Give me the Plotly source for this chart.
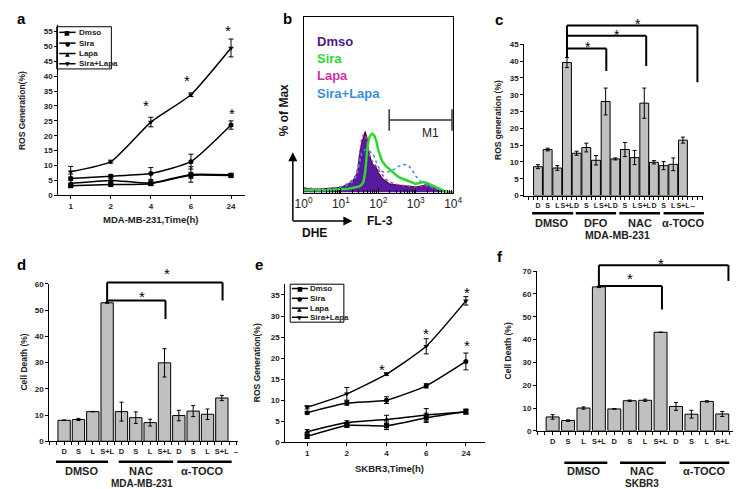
import math
import plotly.graph_objects as go

W, H = 741, 489
FONT = "Liberation Sans, Arial, sans-serif"

# ---------- a / e : ROS generation time course ----------
time_labels = ["1", "2", "4", "6", "24"]
series_names = ["Dmso", "Sira", "Lapa", "Sira+Lapa"]
series_symbols = ["square", "circle", "triangle-up", "triangle-down"]
legend_glyphs = ["■", "●", "▲", "▼"]

mda_dmso = [3.2, 3.6, 3.9, 6.7, 6.6]
mda_dmso_err = [0.5, 0.4, 0.5, 1.0, 0.6]
mda_sira = [5.6, 6.4, 7.3, 11.3, 23.6]
mda_sira_err = [1.5, 0.6, 2.0, 2.5, 1.4]
mda_lapa = [4.0, 5.0, 4.1, 7.0, 6.9]
mda_lapa_err = [1.0, 0.5, 0.8, 2.6, 0.5]
mda_combo = [7.9, 11.3, 24.6, 33.8, 49.5]
mda_combo_err = [1.8, 0.5, 1.6, 0.6, 3.0]

sk_dmso = [1.4, 4.0, 3.9, 5.8, 7.3]
sk_dmso_err = [0.5, 0.4, 0.9, 1.1, 0.6]
sk_sira = [7.0, 9.3, 10.0, 13.4, 19.2]
sk_sira_err = [0.3, 0.5, 0.8, 0.5, 2.0]
sk_lapa = [2.5, 4.7, 5.4, 6.5, 7.2]
sk_lapa_err = [0.5, 0.4, 1.0, 1.5, 0.5]
sk_combo = [8.3, 11.5, 16.2, 22.8, 33.6]
sk_combo_err = [0.4, 1.5, 0.3, 1.8, 1.0]

# ---------- b : DHE flow histogram (log10 FL-3, % of max) ----------
flow_log = [0.0, 0.2, 0.4, 0.6, 0.8, 1.0, 1.1, 1.2, 1.3, 1.4, 1.45, 1.5, 1.55, 1.6,
            1.65, 1.7, 1.75, 1.8, 1.85, 1.9, 1.95, 2.0, 2.1, 2.2, 2.3, 2.4, 2.5, 2.6,
            2.7, 2.8, 2.9, 3.0, 3.1, 3.2, 3.3, 3.4, 3.5, 3.6, 3.7, 3.8, 3.9, 4.0]
flow_dmso = [2.5, 2.0, 2.0, 2.2, 2.4, 3.0, 4.0, 5.0, 6.5, 9.5, 12.5, 22.7, 28.0, 32.0,
             34.8, 31.0, 23.0, 18.5, 16.2, 15.3, 14.0, 11.5, 8.3, 6.5, 5.0, 4.6, 4.3, 4.1,
             4.0, 3.8, 3.5, 3.2, 3.6, 4.2, 4.5, 3.5, 3.0, 2.2, 1.3, 0.7, 0.3, 0.0]
flow_sira = [1.5, 1.3, 1.3, 1.4, 1.5, 1.8, 2.0, 2.2, 2.5, 2.8, 3.0, 3.5, 4.5, 6.0,
             12.0, 24.0, 31.0, 33.0, 33.5, 32.0, 29.0, 24.0, 18.0, 15.0, 13.3, 11.5, 9.5, 8.3,
             7.5, 6.5, 5.8, 5.0, 5.5, 6.0, 5.5, 4.5, 3.4, 2.5, 1.3, 0.6, 0.2, 0.0]
flow_lapa = [2.8, 2.2, 2.0, 2.3, 2.6, 3.4, 4.3, 5.3, 7.0, 10.0, 14.0, 24.0, 30.0, 33.0,
             33.0, 28.0, 22.0, 19.0, 17.5, 16.0, 15.0, 13.0, 10.0, 7.5, 6.0, 5.2, 4.6, 4.2,
             3.9, 3.6, 3.4, 3.3, 3.6, 4.0, 4.0, 3.2, 2.5, 1.8, 1.0, 0.5, 0.2, 0.0]
flow_combo = [1.8, 1.8, 1.8, 2.0, 2.4, 3.0, 3.5, 4.5, 6.0, 9.0, 12.0, 17.0, 22.0, 24.0,
              24.5, 24.0, 23.5, 23.0, 22.0, 20.0, 17.0, 14.5, 12.0, 11.5, 12.0, 13.0, 14.5, 15.5,
              16.0, 15.5, 13.0, 9.5, 7.0, 5.0, 4.0, 3.2, 2.5, 1.8, 1.2, 0.6, 0.3, 0.1]
flow_names = ["Dmso", "Sira", "Lapa", "Sira+Lapa"]
flow_colors = ["#4a1c86", "#2fd62f", "#d0339f", "#3d8ed8"]

# ---------- c : ROS generation, MDA-MB-231 with scavengers ----------
c_labels = ["D", "S", "L", "S+L", "D", "S", "L", "S+L", "D", "S", "L", "S+L",
            "D", "S", "L", "S+L", "--"]
c_ros = [8.6, 13.7, 8.2, 39.6, 12.6, 14.3, 10.5, 28.0, 10.9, 13.7, 11.3, 27.5,
         9.9, 8.9, 9.3, 16.5]
c_ros_err = [0.6, 0.4, 0.7, 1.5, 0.6, 1.3, 1.4, 4.0, 0.3, 2.1, 2.1, 4.5,
             0.5, 1.2, 1.9, 0.9]
c_groups = ["DMSO", "DFO", "NAC", "α-TOCO"]

# ---------- d : cell death, MDA-MB-231 ----------
d_labels = ["D", "S", "L", "S+L", "D", "S", "L", "S+L", "D", "S", "L", "S+L", "–"]
d_death = [8.0, 8.3, 11.3, 52.8, 11.3, 9.0, 7.1, 29.9, 9.8, 11.5, 10.3, 16.5]
d_death_err = [0.1, 0.4, 0.1, 0.2, 3.6, 2.2, 1.3, 5.4, 2.0, 2.1, 2.0, 1.0]

# ---------- f : cell death, SKBR3 ----------
f_labels = ["D", "S", "L", "S+L", "D", "S", "L", "S+L", "D", "S", "L", "S+L", "–"]
f_death = [6.1, 4.5, 10.0, 63.1, 9.6, 13.2, 13.4, 43.2, 10.7, 7.3, 12.9, 7.4]
f_death_err = [1.0, 0.3, 0.5, 0.3, 0.1, 0.3, 0.5, 0.1, 1.7, 1.7, 0.3, 1.1]
dfn_groups = ["DMSO", "NAC", "α-TOCO"]


def px(x):
    return x / W


def py(y):
    return 1 - y / H


def yv(dom, rng, v):
    return dom[0] + (v - rng[0]) / (rng[1] - rng[0]) * (dom[1] - dom[0])


# panel frames (pixel positions of the axis lines)
A_DOM = ([px(42.3), px(233.3)], [py(186.7), py(13.3)])
B_DOM = ([px(293.7), px(447)], [py(184), py(5)])
C_DOM = ([px(520), px(703)], [py(187), py(33)])
D_DOM = ([px(33), px(227)], [py(437.3), py(277)])
E_DOM = ([px(275), px(480)], [py(438.3), py(276.7)])
F_DOM = ([px(533), 1.0], [py(426.7), py(264)])
C_YR, D_YR, F_YR = [0, 45], [0, 60], [0, 70]

fig = go.Figure()


def add_time_course(xa, ya, series):
    for (vals, errs), sym in zip(series, series_symbols):
        fig.add_trace(go.Scatter(
            x=time_labels, y=vals, xaxis=xa, yaxis=ya, mode="lines+markers",
            line=dict(color="black", width=1.5, shape="spline", smoothing=0.5),
            marker=dict(symbol=sym, size=5, color="black"),
            error_y=dict(type="data", array=errs, color="black", thickness=1, width=2.5),
            cliponaxis=False, showlegend=False))


def add_bars(xa, ya, vals, errs, width):
    fig.add_trace(go.Bar(
        x=list(range(len(vals))), y=vals, xaxis=xa, yaxis=ya, width=width,
        marker=dict(color="#c0c0c0", line=dict(color="black", width=1)),
        error_y=dict(type="data", array=errs, color="black", thickness=1, width=2),
        showlegend=False))


add_time_course("x", "y", [(mda_dmso, mda_dmso_err), (mda_sira, mda_sira_err),
                           (mda_lapa, mda_lapa_err), (mda_combo, mda_combo_err)])
add_time_course("x5", "y5", [(sk_dmso, sk_dmso_err), (sk_sira, sk_sira_err),
                             (sk_lapa, sk_lapa_err), (sk_combo, sk_combo_err)])

# flow histogram
fig.add_trace(go.Scatter(x=flow_log, y=flow_dmso, xaxis="x2", yaxis="y2", mode="lines",
                         fill="tozeroy", fillcolor="#5a1aa0",
                         line=dict(color="#1c0a30", width=1), showlegend=False))
fig.add_trace(go.Scatter(x=flow_log, y=flow_lapa, xaxis="x2", yaxis="y2", mode="lines",
                         line=dict(color=flow_colors[2], width=1.5, dash="dot"), showlegend=False))
fig.add_trace(go.Scatter(x=flow_log, y=flow_combo, xaxis="x2", yaxis="y2", mode="lines",
                         line=dict(color=flow_colors[3], width=1.5, dash="dot"), showlegend=False))
fig.add_trace(go.Scatter(x=flow_log, y=flow_sira, xaxis="x2", yaxis="y2", mode="lines",
                         line=dict(color=flow_colors[1], width=2.5), showlegend=False))

add_bars("x3", "y3", c_ros, c_ros_err, 0.92)
add_bars("x4", "y4", d_death, d_death_err, 0.86)
add_bars("x6", "y6", f_death, f_death_err, 0.84)

tickfont = dict(family=FONT, size=8, color="#222", weight="bold")
base = dict(showline=True, linecolor="black", linewidth=1, ticks="outside", ticklen=3,
            tickwidth=1, tickcolor="black", showgrid=False, zeroline=False, tickfont=tickfont)
minor_half = dict(dtick=0.5, tick0=0, ticks="outside", ticklen=3, tickcolor="black")

decade_minor = [d + math.log10(k) for d in range(4) for k in range(2, 10)]

layout_axes = dict(
    xaxis=dict(base, domain=A_DOM[0], anchor="y", type="category", range=[-0.31, 4.34]),
    yaxis=dict(base, domain=A_DOM[1], anchor="x", range=[0, 57.2], dtick=5, tick0=0),
    xaxis2=dict(base, domain=B_DOM[0], anchor="y2", range=[0, 4], ticks="inside", ticklen=5,
                mirror=True, tickvals=[0, 1, 2, 3, 4],
                ticktext=["10<sup>%d</sup>" % k for k in range(5)],
                tickfont=dict(family=FONT, size=12, color="#222"),
                minor=dict(tickvals=decade_minor, ticks="inside", ticklen=3, tickcolor="black")),
    yaxis2=dict(base, domain=B_DOM[1], anchor="x2", range=[0, 100], ticks="",
                showticklabels=False, mirror=True),
    xaxis3=dict(base, domain=C_DOM[0], anchor="y3", range=[-1.41, 17.07], tickangle=0,
                tickvals=list(range(len(c_labels))), ticktext=c_labels, minor=minor_half,
                tickfont=dict(tickfont, size=7)),
    yaxis3=dict(base, domain=C_DOM[1], anchor="x3", range=C_YR, dtick=5, tick0=0),
    xaxis4=dict(base, domain=D_DOM[0], anchor="y4", range=[-1.04, 12.16], tickangle=0,
                tickvals=list(range(len(d_labels))), ticktext=d_labels, minor=minor_half,
                tickfont=dict(tickfont, size=7.5)),
    yaxis4=dict(base, domain=D_DOM[1], anchor="x4", range=D_YR, dtick=10, tick0=0),
    xaxis5=dict(base, domain=E_DOM[0], anchor="y5", type="category", range=[-0.55, 4.49]),
    yaxis5=dict(base, domain=E_DOM[1], anchor="x5", range=[0, 37.7], dtick=5, tick0=0),
    xaxis6=dict(base, domain=F_DOM[0], anchor="y6", range=[-1.01, 12.15], tickangle=0,
                tickvals=list(range(len(f_labels))), ticktext=f_labels, minor=minor_half,
                tickfont=dict(tickfont, size=7.5)),
    yaxis6=dict(base, domain=F_DOM[1], anchor="x6", range=F_YR, dtick=10, tick0=0),
)

shapes = []
annotations = []


def label(x, y, text, size=8, bold=True, color="#222", angle=0, xanchor="center", family=FONT):
    annotations.append(dict(x=px(x), y=py(y), xref="paper", yref="paper", text=text,
                            showarrow=False, textangle=angle, xanchor=xanchor, yanchor="middle",
                            font=dict(family=family, size=size, color=color,
                                      weight="bold" if bold else "normal")))


def hline(x0, x1, y, width=2.5):
    shapes.append(dict(type="line", xref="paper", yref="paper", x0=px(x0), x1=px(x1),
                       y0=py(y), y1=py(y), line=dict(color="black", width=width)))


def brackets(xa, dom, rng, x0, base_v, arms):
    # arms: (x_end, level, drop_to)
    top = max(a[1] for a in arms)
    seg = dict(type="line", xref=xa, yref="paper", line=dict(color="black", width=2))
    shapes.append(dict(seg, x0=x0, x1=x0, y0=yv(dom, rng, base_v), y1=yv(dom, rng, top)))
    for x1, lev, drop in arms:
        shapes.append(dict(seg, x0=x0, x1=x1, y0=yv(dom, rng, lev), y1=yv(dom, rng, lev)))
        shapes.append(dict(seg, x0=x1, x1=x1, y0=yv(dom, rng, lev), y1=yv(dom, rng, drop)))


def star(x, y, size=15):
    label(x, y + size * 0.25, "*", size=size, bold=False, color="black")


# panel letters
for (lx, ly), ch in zip([(5, 7), (277, 7), (494, 8), (5, 257), (248, 257), (495, 249)], "abcdef"):
    label(lx, ly, ch, size=15, color="black")

# ---- a ----
label(5, 100, "ROS Generation(%)", size=8.5, angle=-90)
label(137, 211, "MDA-MB-231,Time(h)", size=9.5)
for lx, ly in [(132.7, 91.7), (174, 66), (216, 15), (220, 99.3)]:
    star(lx, ly)

# ---- e ----
label(246.7, 357, "ROS Generation(%)", size=8.5, angle=-90)
label(381.7, 465, "SKBR3,Time(h)", size=9.5)
for lx, ly in [(374.3, 360), (419, 323.3), (461, 282.3), (461, 335.7)]:
    star(lx, ly)


def line_legend(box, rows, line_x, glyph_x, text_x):
    x0, x1, y0, y1 = box
    shapes.append(dict(type="rect", xref="paper", yref="paper", x0=px(x0), x1=px(x1),
                       y0=py(y1), y1=py(y0), line=dict(color="black", width=1)))
    for ry, name, g in zip(rows, series_names, legend_glyphs):
        shapes.append(dict(type="line", xref="paper", yref="paper", x0=px(line_x[0]),
                           x1=px(line_x[1]), y0=py(ry), y1=py(ry),
                           line=dict(color="black", width=1.5)))
        label(glyph_x, ry, g, size=6, bold=False, color="black", family="DejaVu Sans")
        label(text_x, ry, name, size=8, xanchor="left")


line_legend((40.7, 96.7, 15, 58), [20.7, 31.7, 42.3, 52.7], (43.3, 60), 51.7, 61)
line_legend((280, 335, 277.3, 316), [281.7, 291.7, 301.7, 311], (281.7, 298.3), 290, 298.5)

# ---- b ----
for ry, name, col in zip([30, 47, 65, 83], flow_names, flow_colors):
    label(305, ry, name, size=13, color=col, xanchor="left")
label(273.7, 100, "% of Max", size=12, angle=-90, color="#111")
label(372, 213, "FL-3", size=12, color="#111")
label(305, 225, "DHE", size=12, color="#111")
annotations.append(dict(x=px(282.7), y=py(143), xref="paper", yref="paper", text="",
                        showarrow=True, ax=0, ay=70, arrowhead=2, arrowsize=1.2,
                        arrowwidth=1.5, arrowcolor="black"))
annotations.append(dict(x=px(343.7), y=py(213), xref="paper", yref="paper", text="",
                        showarrow=True, ax=-61, ay=0, arrowhead=2, arrowsize=1.2,
                        arrowwidth=1.5, arrowcolor="black"))
m1 = dict(type="line", xref="x2", yref="y2", line=dict(color="#333", width=1.5))
shapes.append(dict(m1, x0=2.29, x1=3.97, y0=41.3, y1=41.3))
shapes.append(dict(m1, x0=2.29, x1=2.29, y0=35.2, y1=47.5))
shapes.append(dict(m1, x0=3.97, x1=3.97, y0=35.2, y1=47.5))
annotations.append(dict(x=3.39, y=34, xref="x2", yref="y2", text="M1", showarrow=False,
                        xanchor="center", yanchor="middle",
                        font=dict(family=FONT, size=12, color="#222")))

# ---- c ----
label(493, 110, "ROS generation (%)", size=8.5, angle=-90)
for (u0, u1), g, gx in zip([(528, 570), (572.7, 614), (617.3, 659), (662.7, 704)], c_groups,
                           [548.3, 593.3, 638.3, 682.7]):
    hline(u0, u1, 205)
    label(gx, 214.5, g, size=11)
label(615, 227, "MDA-MB-231", size=10.5)
brackets("x3", C_DOM[1], C_YR, 3, c_ros[3] + c_ros_err[3],
         [(7.07, 43.8, 37.1), (11.2, 47.6, 38.6), (16.5, 50.6, 33.7)])
for lx, ly in [(585.7, 31.7), (615, 20), (636.7, 8.3)]:
    star(lx, ly, 14)

# ---- d ----
label(7.3, 357, "Cell Death (%)", size=8.5, angle=-90)
for (u0, u1), g, gx in zip([(40, 93.3), (104.3, 160), (164.3, 220)], dfn_groups, [66, 127, 190]):
    hline(u0, u1, 458.3)
    label(gx, 468, g, size=11)
label(128, 480.5, "MDA-MB-231", size=10)
brackets("x4", D_DOM[1], D_YR, 3, d_death[3], [(7.07, 53.7, 46.6), (11.05, 60.5, 53.7)])
for lx, ly in [(127.7, 286), (154, 263)]:
    star(lx, ly)

# ---- f ----
label(503, 345, "Cell Death (%)", size=8.5, angle=-90)
for (u0, u1), g, gx in zip([(561, 605), (618, 665), (679, 730)], dfn_groups, [581, 641, 704]):
    hline(u0, u1, 459.3)
    label(gx, 468, g, size=11)
label(641, 480.5, "SKBR3", size=10)
brackets("x6", F_DOM[1], F_YR, 3, f_death[3], [(7.09, 63.5, 53.2), (11.4, 72.6, 65.7)])
for lx, ly in [(628, 268), (660, 252)]:
    star(lx, ly)

fig.update_layout(
    width=W, height=H, margin=dict(l=0, r=0, t=0, b=0),
    paper_bgcolor="white", plot_bgcolor="white", showlegend=False,
    font=dict(family=FONT), shapes=shapes, annotations=annotations, **layout_axes)

fig.write_html("out.html")
